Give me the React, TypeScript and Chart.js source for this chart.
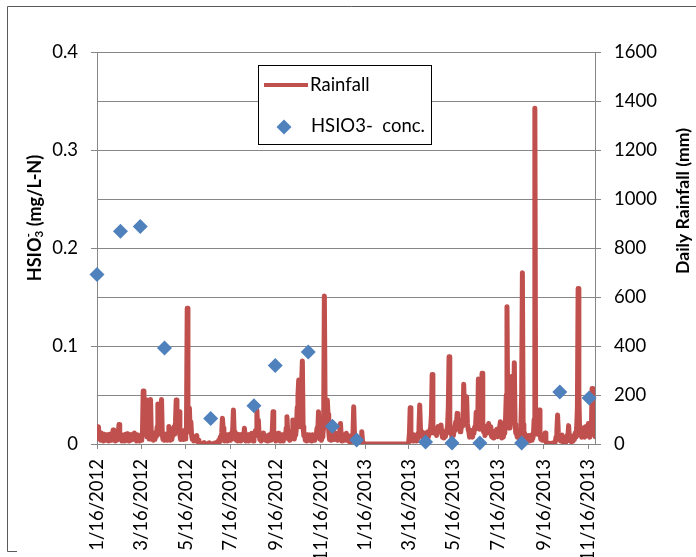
import React, { useEffect, useRef } from 'react';
import { Chart, registerables } from 'chart.js';

Chart.register(...registerables);

// X axis: days since 1/16/2012
const xMaxDay = 679;
const tickDays = [0, 60, 121, 182, 244, 305, 366, 425, 486, 547, 609, 670];
const tickLabels = [
  '1/16/2012', '3/16/2012', '5/16/2012', '7/16/2012', '9/16/2012', '11/16/2012',
  '1/16/2013', '3/16/2013', '5/16/2013', '7/16/2013', '9/16/2013', '11/16/2013',
];

// HSIO3- concentration (mg/L-N), left axis
const concDays = [0, 32, 59, 92, 155, 214, 243, 288, 321, 354, 448, 484, 522, 579, 631, 671];
const concValues = [0.173, 0.217, 0.222, 0.098, 0.026, 0.039, 0.080, 0.094, 0.018, 0.004, 0.002, 0.001, 0.001, 0.001, 0.053, 0.047];

// Daily rainfall (mm), right axis: [day, mm]
const rainfall: [number, number][] = [
  [0, 65], [1, 35], [2, 70], [3, 20], [4, 40], [5, 15], [6, 45], [7, 18], [8, 35], [9, 12], [10, 40], [11, 18],
  [12, 30], [13, 37], [14, 15], [15, 38], [16, 12], [17, 40], [18, 18], [19, 35], [20, 15], [21, 40], [22, 57],
  [23, 20], [24, 40], [25, 12], [26, 42], [27, 15], [28, 35], [29, 40], [30, 80], [31, 45], [32, 18], [33, 38],
  [34, 12], [35, 35], [36, 15], [37, 32], [38, 12], [39, 40], [40, 18], [41, 42], [42, 15], [43, 35], [44, 12],
  [45, 38], [46, 15], [47, 30], [48, 18], [49, 40], [50, 20], [51, 45], [52, 18], [53, 35], [54, 12], [55, 38],
  [56, 15], [57, 32], [58, 12], [59, 35], [60, 15], [61, 30], [62, 50], [63, 216], [64, 45], [65, 140], [66, 40],
  [67, 180], [68, 30], [69, 45], [70, 50], [71, 20], [72, 70], [73, 182], [74, 40], [75, 18], [76, 35], [77, 15],
  [78, 45], [79, 18], [80, 38], [81, 30], [82, 70], [83, 163], [84, 40], [85, 70], [86, 100], [87, 60],
  [88, 182], [89, 40], [90, 18], [91, 38], [92, 15], [93, 40], [94, 18], [95, 35], [96, 15], [97, 40], [98, 71],
  [99, 30], [100, 15], [101, 40], [102, 18], [103, 35], [104, 40], [105, 70], [106, 40], [107, 90], [108, 180],
  [109, 70], [110, 100], [111, 50], [112, 132], [113, 35], [114, 18], [115, 45], [116, 20], [117, 38], [118, 18],
  [119, 55], [120, 20], [121, 40], [122, 70], [123, 554], [124, 90], [125, 50], [126, 147], [127, 50], [128, 90],
  [129, 35], [130, 18], [131, 30], [132, 12], [133, 22], [134, 30], [135, 15], [136, 35], [137, 10], [138, 15],
  [139, 3], [141, 0], [143, 0], [146, 6], [148, 0], [151, 0], [153, 5], [155, 0], [158, 0], [160, 4], [162, 0],
  [164, 8], [165, 3],
  [166, 15], [167, 8], [168, 28], [169, 15], [170, 45], [171, 105], [172, 65], [173, 28], [174, 12], [175, 35],
  [176, 15], [177, 38], [178, 12], [179, 30], [180, 18], [181, 40], [182, 15], [183, 32], [184, 40], [185, 60],
  [186, 139], [187, 50], [188, 20], [189, 35], [190, 15], [191, 40], [192, 12], [193, 32], [194, 15], [195, 38],
  [196, 12], [197, 30], [198, 18], [199, 40], [200, 30], [201, 64], [202, 30], [203, 12], [204, 35], [205, 15],
  [206, 38], [207, 12], [208, 30], [209, 18], [210, 35], [211, 44], [212, 20], [213, 12], [214, 35], [215, 30],
  [216, 55], [217, 50], [218, 139], [219, 65], [220, 98], [221, 40], [222, 18], [223, 35], [224, 12], [225, 38],
  [226, 28], [227, 45], [228, 18], [229, 35], [230, 15], [231, 30], [232, 12], [233, 35], [234, 18], [235, 38],
  [236, 15], [237, 30], [238, 40], [239, 55], [240, 132], [241, 50], [242, 18], [243, 35], [244, 12], [245, 38],
  [246, 28], [247, 44], [248, 20], [249, 35], [250, 12], [251, 30], [252, 15], [253, 38], [254, 12], [255, 30],
  [256, 40], [257, 30], [258, 65], [259, 111], [260, 50], [261, 20], [262, 38], [263, 15], [264, 35], [265, 40],
  [266, 55], [267, 98], [268, 50], [269, 20], [270, 38], [271, 40], [272, 70], [273, 150], [274, 200], [275, 261],
  [276, 120], [277, 70], [278, 150], [279, 250], [280, 339], [281, 70], [282, 35], [283, 40], [284, 15],
  [285, 30], [286, 12], [287, 38], [288, 15], [289, 30], [290, 37], [291, 18], [292, 35], [293, 12], [294, 38],
  [295, 18], [296, 30], [297, 15], [298, 35], [299, 40], [300, 65], [301, 50], [302, 132], [303, 60], [304, 20],
  [305, 38], [306, 15], [307, 30], [308, 40], [309, 70], [310, 604], [311, 150], [312, 70], [313, 90], [314, 180],
  [315, 120], [316, 50], [317, 18], [318, 35], [319, 15], [320, 38], [321, 20], [322, 50], [323, 18], [324, 30],
  [325, 45], [326, 20], [327, 35], [328, 15], [329, 38], [330, 45], [331, 71], [332, 84], [333, 30], [334, 12],
  [335, 35], [336, 18], [337, 38], [338, 15], [339, 30], [340, 44], [341, 18], [342, 35], [343, 12], [344, 28],
  [345, 8], [346, 22], [347, 35], [348, 15], [349, 40], [350, 152], [351, 45], [352, 18], [353, 28], [354, 8],
  [355, 15], [356, 5], [357, 20], [358, 8], [359, 0], [360, 25], [361, 50], [362, 12], [363, 3], [364, 0],
  [366, 0], [424, 0],
  [425, 8], [426, 45], [427, 148], [428, 40], [429, 18], [430, 35], [431, 12], [432, 38], [433, 15], [434, 30],
  [435, 12], [436, 35], [437, 20], [438, 45], [439, 65], [440, 159], [441, 65], [442, 35], [443, 50], [444, 25],
  [445, 45], [446, 44], [447, 35], [448, 25], [449, 45], [450, 20], [451, 50], [452, 30], [453, 45], [454, 55],
  [455, 70], [456, 120], [457, 284], [458, 70], [459, 45], [460, 55], [461, 60], [462, 64], [463, 35], [464, 60],
  [465, 71], [466, 50], [467, 55], [468, 60], [469, 78], [470, 50], [471, 28], [472, 45], [473, 25], [474, 50],
  [475, 30], [476, 45], [477, 55], [478, 75], [479, 150], [480, 356], [481, 90], [482, 60], [483, 50], [484, 25],
  [485, 50], [486, 35], [487, 60], [488, 55], [489, 90], [490, 75], [491, 125], [492, 110], [493, 65], [494, 80],
  [495, 50], [496, 55], [497, 70], [498, 100], [499, 75], [500, 244], [501, 120], [502, 100], [503, 150],
  [504, 193], [505, 85], [506, 60], [507, 50], [508, 28], [509, 45], [510, 30], [511, 55], [512, 28], [513, 45],
  [514, 50], [515, 70], [516, 60], [517, 130], [518, 100], [519, 75], [520, 265], [521, 120], [522, 60],
  [523, 75], [524, 150], [525, 289], [526, 90], [527, 50], [528, 55], [529, 35], [530, 70], [531, 45], [532, 50],
  [533, 55], [534, 84], [535, 45], [536, 50], [537, 70], [538, 30], [539, 45], [540, 25], [541, 50], [542, 28],
  [543, 45], [544, 50], [545, 60], [546, 30], [547, 45], [548, 50], [549, 70], [550, 91], [551, 45], [552, 25],
  [553, 50], [554, 28], [555, 45], [556, 60], [557, 100], [558, 200], [559, 560], [560, 120], [561, 65],
  [562, 80], [563, 65], [564, 150], [565, 275], [566, 150], [567, 200], [568, 120], [569, 332], [570, 80],
  [571, 45], [572, 40], [573, 28], [574, 55], [575, 35], [576, 20], [577, 40], [578, 80], [579, 200], [580, 699],
  [581, 80], [582, 40], [583, 45], [584, 18], [585, 35], [586, 12], [587, 30], [588, 15], [589, 35], [590, 12],
  [591, 25], [592, 15], [593, 38], [594, 20], [595, 35], [596, 100], [597, 1370], [598, 150], [599, 65],
  [600, 45], [601, 40], [602, 55], [603, 139], [604, 45], [605, 20], [606, 35], [607, 15], [608, 38], [609, 15],
  [610, 20], [611, 45], [612, 12], [613, 3], [614, 5], [616, 0], [618, 3], [620, 0], [622, 5], [624, 0],
  [625, 12], [626, 30], [627, 55], [628, 118], [629, 45], [630, 18], [631, 28], [632, 12], [633, 28], [634, 37],
  [635, 15], [636, 5], [637, 0], [639, 5], [640, 18], [641, 35], [642, 28], [643, 75], [644, 28], [645, 12],
  [646, 22], [647, 8], [648, 22], [649, 12], [650, 35], [651, 18], [652, 45], [653, 28], [654, 65], [655, 150],
  [656, 635], [657, 200], [658, 65], [659, 35], [660, 45], [661, 28], [662, 65], [663, 35], [664, 40], [665, 28],
  [666, 70], [667, 45], [668, 35], [669, 65], [670, 84], [671, 40], [672, 28], [673, 80], [674, 45], [675, 227],
  [676, 200], [677, 45], [678, 65], [679, 30],
];

const legendLabels = ['Rainfall', 'HSIO3-  conc.'];
const rightTitle = 'Daily Rainfall (mm)';

const RED = '#C0504D';
const BLUE = '#4F81BD';
const GRID = '#868686';
const FONT = 'Lato';

function fitFont(ctx: CanvasRenderingContext2D, text: string, weight: string, target: number) {
  ctx.font = `${weight} 20px ${FONT}`;
  const w = ctx.measureText(text).width;
  return (20 * target) / w;
}

const overlay = {
  id: 'overlay',
  afterDraw(chart: any) {
    const ctx = chart.ctx as CanvasRenderingContext2D;
    ctx.save();
    // outer frame
    ctx.strokeStyle = '#5a5a5a';
    ctx.lineWidth = 1;
    ctx.beginPath();
    ctx.moveTo(696, 6.5);
    ctx.lineTo(7.5, 6.5);
    ctx.lineTo(7.5, 551.5);
    ctx.lineTo(17, 551.5);
    ctx.stroke();

    // left title with sub/superscript
    ctx.fillStyle = '#000';
    ctx.textBaseline = 'middle';
    ctx.textAlign = 'left';
    const bigSize = fitFont(ctx, 'HSIO3 (mg/L-N)', 'bold', 130);
    const big = `bold ${bigSize}px ${FONT}`;
    const small = `bold ${bigSize * 0.65}px ${FONT}`;
    const parts: [string, string, number][] = [
      ['HSIO', big, 0],
      ['3', small, bigSize * 0.25],
      ['-', small, -bigSize * 0.38],
      [' (mg/L-N)', big, 0],
    ];
    let total = 0;
    const widths: number[] = [];
    parts.forEach(([t, f], i) => {
      ctx.font = f;
      const w = ctx.measureText(t).width;
      widths.push(w);
      if (i !== 2) total += w;
    });
    ctx.save();
    ctx.translate(35, 218);
    ctx.rotate(-Math.PI / 2);
    let px = -total / 2;
    parts.forEach(([t, f, dy], i) => {
      ctx.font = f;
      if (i === 2) {
        ctx.fillText(t, px - widths[1], dy);
        return;
      }
      ctx.fillText(t, px, dy);
      px += widths[i];
    });
    ctx.restore();

    // right title
    ctx.save();
    ctx.translate(683, 201);
    ctx.rotate(-Math.PI / 2);
    ctx.font = `bold ${fitFont(ctx, rightTitle, 'bold', 146)}px ${FONT}`;
    ctx.textAlign = 'center';
    ctx.fillText(rightTitle, 0, 0);
    ctx.restore();

    // legend
    ctx.fillStyle = '#fff';
    ctx.fillRect(258.5, 65.5, 173, 79);
    ctx.strokeStyle = '#000';
    ctx.lineWidth = 1;
    ctx.strokeRect(258.5, 65.5, 173, 79);
    ctx.strokeStyle = RED;
    ctx.lineWidth = 4;
    ctx.beginPath();
    ctx.moveTo(264, 85);
    ctx.lineTo(308, 85);
    ctx.stroke();
    ctx.fillStyle = BLUE;
    ctx.beginPath();
    ctx.moveTo(284, 119.5);
    ctx.lineTo(291.5, 127);
    ctx.lineTo(284, 134.5);
    ctx.lineTo(276.5, 127);
    ctx.closePath();
    ctx.fill();
    ctx.fillStyle = '#000';
    const legSize = fitFont(ctx, legendLabels[1], '', 114);
    ctx.font = `${legSize}px ${FONT}`;
    ctx.textAlign = 'left';
    ctx.textBaseline = 'middle';
    ctx.fillText(legendLabels[0], 310, 85);
    ctx.fillText(legendLabels[1], 311, 126);
    ctx.restore();
  },
};

export default function App() {
  const ref = useRef<HTMLCanvasElement>(null);
  useEffect(() => {
    document.body.style.margin = '0';
    const canvas = ref.current!;
    const tickFont = { family: FONT, size: 18.5 };
    const chart = new Chart(canvas, {
      type: 'scatter',
      data: {
        datasets: [
          {
            label: legendLabels[1],
            data: concDays.map((d, i) => ({ x: d, y: concValues[i] })),
            xAxisID: 'x',
            yAxisID: 'y',
            showLine: false,
            pointStyle: 'rectRot',
            pointRadius: 7.5,
            pointBackgroundColor: BLUE,
            pointBorderColor: BLUE,
            pointBorderWidth: 0,
            clip: false,
            order: 0,
          } as any,
          {
            label: legendLabels[0],
            data: rainfall.map(([d, v]) => ({ x: d, y: v })),
            xAxisID: 'x',
            yAxisID: 'y1',
            showLine: true,
            borderColor: RED,
            borderWidth: 5,
            borderJoinStyle: 'round',
            borderCapStyle: 'round',
            pointRadius: 0,
            tension: 0,
            order: 1,
          } as any,
        ],
      },
      options: {
        animation: false,
        responsive: false,
        events: [],
        layout: { padding: { top: 52, left: 0, right: 0, bottom: 0 } },
        plugins: { legend: { display: false }, tooltip: { enabled: false } },
        scales: {
          x: {
            type: 'linear',
            position: 'bottom',
            min: 0,
            max: xMaxDay,
            afterBuildTicks: (s: any) => {
              s.ticks = tickDays.map((v) => ({ value: v }));
            },
            afterFit: (s: any) => {
              s.height = 113;
            },
            ticks: {
              autoSkip: false,
              maxRotation: 90,
              minRotation: 90,
              padding: 10,
              color: '#000',
              font: tickFont,
              callback: (_v: any, i: number) => tickLabels[i],
            },
            grid: { drawOnChartArea: false, color: GRID, tickLength: 5 },
            border: { color: GRID },
          },
          y: {
            type: 'linear',
            position: 'left',
            min: 0,
            max: 0.4,
            afterFit: (s: any) => {
              s.width = 97;
            },
            ticks: {
              stepSize: 0.1,
              padding: 13,
              color: '#000',
              font: tickFont,
              callback: (v: any) => (Number(v) === 0 ? '0' : Number(v).toFixed(1)),
            },
            grid: { drawOnChartArea: false, color: GRID, tickLength: 6 },
            border: { color: GRID },
          },
          y1: {
            type: 'linear',
            position: 'right',
            min: 0,
            max: 1600,
            afterFit: (s: any) => {
              s.width = 101;
            },
            ticks: {
              stepSize: 200,
              padding: 13,
              color: '#000',
              font: tickFont,
              callback: (v: any) => String(v),
            },
            grid: { drawOnChartArea: true, color: GRID, tickLength: 6 },
            border: { color: GRID },
          },
        },
      },
      plugins: [overlay],
    } as any);
    return () => chart.destroy();
  }, []);
  return (
    <div style={{ width: 696, height: 557 }}>
      <canvas ref={ref} width={696} height={557} />
    </div>
  );
}
